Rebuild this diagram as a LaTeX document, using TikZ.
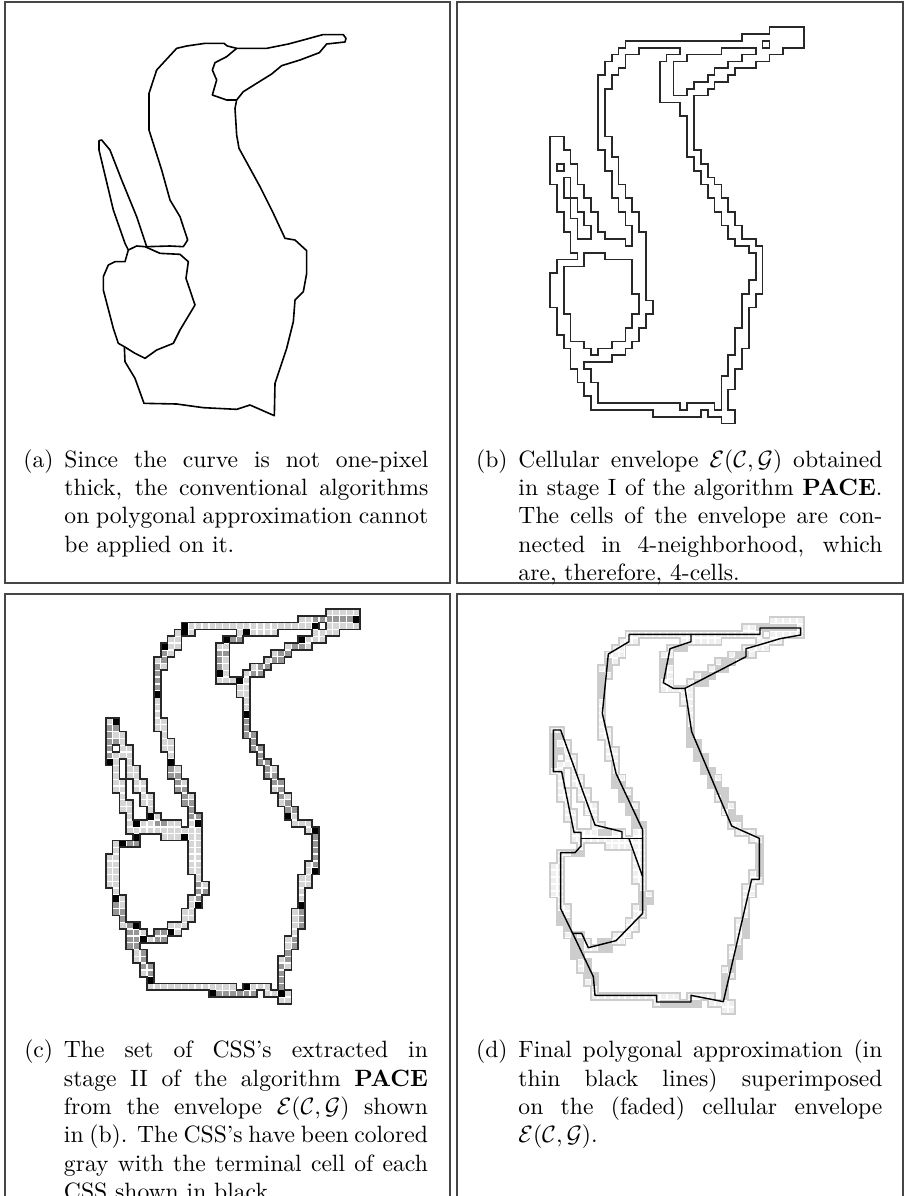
\documentclass[tikz,border=0pt]{standalone}
\usepackage{amsmath}
\definecolor{envDark}{RGB}{40,40,40}
\definecolor{frameGray}{RGB}{70,70,70}
\definecolor{cellLight}{RGB}{214,214,214}
\definecolor{cellMid}{RGB}{150,150,150}
\definecolor{fadeLine}{RGB}{205,205,205}
\definecolor{fadeCell}{RGB}{240,240,240}
\definecolor{fadeMid}{RGB}{205,205,205}
\tikzset{
  panelFrame/.style={draw=frameGray, line width=0.5pt},
  envLine/.style={draw=envDark, line width=0.72pt, line join=miter},
  fadedLine/.style={draw=fadeLine, line width=0.8pt},
  curveLine/.style={draw=black, line width=0.68pt, line join=round},
  polyLine/.style={draw=black, line width=0.6pt, line join=round},
  captionText/.style={anchor=north west, inner sep=0pt, text width=154.2pt, align=justify}
}
% envelope outlines on the cell grid
\newcommand{\envelopePaths}{
  (32,0) -- (37,0) -- (37,3) -- (34,3) -- (34,4) -- (32,4) -- (32,5) -- (30,5) -- (30,6) -- (27,6) -- (27,7) -- (26,7) -- (26,8) -- (24,8) -- (24,9) -- (23,9) -- (23,10) -- (21,10) -- (21,18) -- (22,18) -- (22,20) -- (23,20) -- (23,22) -- (24,22) -- (24,23) -- (25,23) -- (25,25) -- (26,25) -- (26,27) -- (27,27) -- (27,29) -- (28,29) -- (28,31) -- (30,31) -- (30,32) -- (31,32) -- (31,39) -- (30,39) -- (30,41) -- (29,41) -- (29,47) -- (28,47) -- (28,50) -- (27,50) -- (27,53) -- (26,53) -- (26,56) -- (27,56) -- (27,58) -- (25,58) -- (25,57) -- (23,57) -- (23,56) -- (22,56) -- (22,57) -- (15,57) -- (15,56) -- (6,56) -- (6,54) -- (5,54) -- (5,52) -- (4,52) -- (4,50) -- (3,50) -- (3,47) -- (2,47) -- (2,45) -- (1,45) -- (1,41) -- (0,41) -- (0,36) -- (1,36) -- (1,34) -- (4,34) -- (4,33) -- (3,33) -- (3,30) -- (2,30) -- (2,27) -- (1,27) -- (1,23) -- (0,23) -- (0,16) -- (2,16) -- (2,18) -- (3,18) -- (3,20) -- (4,20) -- (4,23) -- (5,23) -- (5,25) -- (6,25) -- (6,27) -- (7,27) -- (7,30) -- (8,30) -- (8,31) -- (11,31) -- (11,32) -- (12,32) -- (12,29) -- (11,29) -- (11,27) -- (10,27) -- (10,25) -- (9,25) -- (9,21) -- (8,21) -- (8,18) -- (7,18) -- (7,7) -- (8,7) -- (8,5) -- (9,5) -- (9,4) -- (10,4) -- (10,3) -- (11,3) -- (11,2) -- (28,2) -- (28,1) -- (32,1) -- cycle
  (13,3) -- (19,3) -- (19,4) -- (17,4) -- (17,5) -- (16,5) -- (16,11) -- (19,11) -- (19,13) -- (20,13) -- (20,19) -- (21,19) -- (21,21) -- (22,21) -- (22,23) -- (23,23) -- (23,25) -- (24,25) -- (24,27) -- (25,27) -- (25,29) -- (26,29) -- (26,31) -- (27,31) -- (27,32) -- (29,32) -- (29,33) -- (30,33) -- (30,37) -- (29,37) -- (29,39) -- (28,39) -- (28,44) -- (27,44) -- (27,48) -- (26,48) -- (26,51) -- (25,51) -- (25,56) -- (24,56) -- (24,55) -- (20,55) -- (20,56) -- (19,56) -- (19,55) -- (7,55) -- (7,52) -- (6,52) -- (6,50) -- (5,50) -- (5,49) -- (9,49) -- (9,48) -- (11,48) -- (11,47) -- (12,47) -- (12,46) -- (13,46) -- (13,44) -- (14,44) -- (14,42) -- (15,42) -- (15,40) -- (14,40) -- (14,30) -- (13,30) -- (13,27) -- (12,27) -- (12,25) -- (11,25) -- (11,23) -- (10,23) -- (10,19) -- (9,19) -- (9,16) -- (8,16) -- (8,9) -- (9,9) -- (9,7) -- (10,7) -- (10,6) -- (11,6) -- (11,4) -- (13,4) -- cycle
  (5,33) -- (8,33) -- (8,34) -- (12,34) -- (12,39) -- (13,39) -- (13,42) -- (12,42) -- (12,44) -- (11,44) -- (11,46) -- (9,46) -- (9,47) -- (7,47) -- (7,48) -- (6,48) -- (6,47) -- (5,47) -- (5,46) -- (3,46) -- (3,42) -- (2,42) -- (2,35) -- (5,35) -- cycle
  (18,5) -- (20,5) -- (20,4) -- (25,4) -- (25,3) -- (30,3) -- (30,4) -- (28,4) -- (28,5) -- (26,5) -- (26,6) -- (24,6) -- (24,7) -- (23,7) -- (23,8) -- (21,8) -- (21,9) -- (20,9) -- (20,10) -- (18,10) -- cycle
  (2,22) -- (3,22) -- (3,25) -- (4,25) -- (4,27) -- (5,27) -- (5,29) -- (6,29) -- (6,31) -- (4,31) -- (4,28) -- (3,28) -- (3,25) -- (2,25) -- cycle
  (31,2) rectangle (32,3)
  (1,20) rectangle (2,21)
}
% cells of the envelope, row/first/last
\newcommand{\cellRuns}{0/32/36,1/28/36,2/11/30,2/32/36,3/10/12,3/19/24,3/30/33,4/9/10,4/17/19,4/28/31,5/8/10,5/16/17,5/26/29,6/8/9,6/16/17,6/24/26,7/7/8,7/16/17,7/23/25,8/7/8,8/16/17,8/21/23,9/7/7,9/16/17,9/20/22,10/7/7,10/16/20,11/7/7,11/19/20,12/7/7,12/19/20,13/7/7,13/20/20,14/7/7,14/20/20,15/7/7,15/20/20,16/0/1,16/7/8,16/20/20,17/0/1,17/7/8,17/20/20,18/0/2,18/8/8,18/20/21,19/0/2,19/8/9,19/21/21,20/0/0,20/2/3,20/8/9,20/21/22,21/0/3,21/9/9,21/22/22,22/0/1,22/3/3,22/9/9,22/22/23,23/1/1,23/3/4,23/9/10,23/23/24,24/1/1,24/3/4,24/9/10,24/23/24,25/1/2,25/4/5,25/10/11,25/24/25,26/1/2,26/4/5,26/10/11,26/24/25,27/2/2,27/5/6,27/11/12,27/25/26,28/2/3,28/5/6,28/11/12,28/25/26,29/2/3,29/6/6,29/12/12,29/26/27,30/3/3,30/6/7,30/12/13,30/26/27,31/3/10,31/12/13,31/27/29,32/3/13,32/29/30,33/4/4,33/8/13,33/30/30,34/1/4,34/12/13,34/30/30,35/1/1,35/12/13,35/30/30,36/0/1,36/12/13,36/30/30,37/0/1,37/12/13,37/29/30,38/0/1,38/12/13,38/29/30,39/0/1,39/13/13,39/28/29,40/0/1,40/13/14,40/28/29,41/1/1,41/13/14,41/28/28,42/1/2,42/12/13,42/28/28,43/1/2,43/12/13,43/28/28,44/1/2,44/11/12,44/27/28,45/2/2,45/11/12,45/27/28,46/2/4,46/9/11,46/27/28,47/3/5,47/7/10,47/27/27,48/3/8,48/26/27,49/3/4,49/26/27,50/4/5,50/26/26,51/4/5,51/25/26,52/5/6,52/25/26,53/5/6,53/25/25,54/6/6,54/25/25,55/6/18,55/20/23,55/25/25,56/15/21,56/23/26,57/25/26}
% darker cells
\newcommand{\midRuns}{1/30/35,4/18/19,5/27/28,6/8/8,6/16/17,6/25/26,7/8/8,7/16/16,7/24/25,8/7/7,8/16/16,8/22/23,9/7/7,9/21/22,10/7/7,11/7/7,16/20/20,17/0/1,17/20/20,18/0/0,18/20/21,19/0/1,19/21/21,20/0/0,20/21/22,21/0/0,21/22/22,22/22/23,23/9/9,23/23/23,24/9/10,24/23/24,25/10/10,25/24/25,26/10/11,26/25/25,27/11/11,27/25/25,28/11/12,28/26/26,29/12/12,29/26/27,30/12/13,31/7/8,33/30/30,34/3/4,34/30/30,35/30/30,36/30/30,37/30/30,40/13/13,41/13/14,42/13/13,43/1/1,44/1/2,44/28/28,45/2/2,45/28/28,46/3/3,46/28/28,47/3/4,47/7/8,48/3/4,48/7/8,48/27/27,49/3/4,49/27/27,50/5/5,50/26/26,51/5/5,51/26/26,52/5/6,52/25/25,53/6/6,53/25/25,54/25/25,55/25/25,56/16/21}
% terminal cells, col/row
\newcommand{\blackCells}{11/2,11/3,8/5,7/12,1/16,0/22,9/22,16/9,17/4,20/3,19/10,20/15,28/4,30/2,36/1,26/30,30/32,30/38,28/43,25/56,20/55,15/56,6/54,5/48,9/47,4/46,1/42,2/34,4/33,11/33,13/43,13/31,6/30,4/31}

\begin{document}
\begin{tikzpicture}[x=0.4237pt, y=-0.4237pt]
  \useasboundingbox (0,0) rectangle (905,1196);

  % Frames
  \draw[panelFrame] (5,2) rectangle (450,583);
  \draw[panelFrame] (457,2) rectangle (903,583);
  \draw[panelFrame] (5,1196) -- (5,594) -- (450,594) -- (450,1196);
  \draw[panelFrame] (457,1196) -- (457,594) -- (903,594) -- (903,1196);

  % Panel a: raw curve
  \begin{scope}[shift={(80,20)}, x=0.14123pt, y=-0.14123pt]
    \draw[curveLine] (290,85) -- (320,78) -- (375,70) -- (432,70) -- (442,78) -- (470,85) -- (560,85) -- (625,72) -- (670,60) -- (728,44) -- (790,44) -- (798,55) -- (795,66) -- (740,72) -- (718,98) -- (660,120) -- (605,137) -- (575,162) -- (530,190) -- (490,215) -- (470,240) -- (465,265) -- (470,345) -- (477,385) -- (540,500) -- (580,580) -- (615,655) -- (645,660) -- (680,692) -- (680,760) -- (670,815) -- (645,840) -- (640,905) -- (620,985) -- (585,1090) -- (583,1187) -- (510,1155) -- (470,1168) -- (370,1163) -- (290,1152) -- (192,1150) -- (165,1075) -- (135,1025) -- (133,980) -- (115,970) -- (100,925) -- (70,810) -- (70,770) -- (85,735) -- (105,725) -- (135,725) -- (145,690) -- (135,670) -- (100,570) -- (57,390) -- (57,362) -- (65,360) -- (90,390) -- (125,480) -- (170,590) -- (200,680) -- (270,678) -- (310,680) -- (323,660) -- (300,590) -- (270,540) -- (245,450) -- (207,330) -- (207,220) -- (230,150) -- (290,85);
    \draw[curveLine] (145,690) -- (170,678) -- (195,680) -- (240,700) -- (300,703) -- (325,725) -- (318,775) -- (345,855) -- (300,930) -- (280,970) -- (230,990) -- (195,1015) -- (165,1000) -- (133,980);
    \draw[curveLine] (470,85) -- (440,110) -- (405,128) -- (397,150) -- (410,180) -- (397,225) -- (440,240) -- (470,240);
  \end{scope}
  \node[captionText] (capA) at (64,449) {\llap{(a)\hspace{4.6pt}}Since the curve is not one-pixel\linebreak thick, the conventional algorithms\linebreak on polygonal approximation cannot\linebreak be applied on it.};

  % Panel b: cellular envelope
  \begin{scope}[shift={(550,27.3)}, x=2.906pt, y=-2.895pt]
    \draw[envLine] \envelopePaths;
  \end{scope}
  \node[captionText] (capB) at (518,449) {\llap{(b)\hspace{4.6pt}}Cellular envelope $\mathcal{E}(\mathcal{C},\mathcal{G})$ obtained\linebreak in stage I of the algorithm \textbf{PACE}.\linebreak The cells of the envelope are con-\linebreak nected in 4-neighborhood, which\linebreak are, therefore, 4-cells.};

  % Panel c: cells colored by CSS
  \begin{scope}[shift={(105.7,609)}, x=2.915pt, y=-2.885pt]
    \foreach \r/\a/\b in \cellRuns {
      \foreach \c in {\a,...,\b} {
        \fill[cellLight] (\c+.1,\r+.1) rectangle (\c+.9,\r+.9);
      }
    }
    \foreach \r/\a/\b in \midRuns {
      \foreach \c in {\a,...,\b} {
        \fill[cellMid] (\c+.1,\r+.1) rectangle (\c+.9,\r+.9);
      }
    }
    \foreach \c/\r in \blackCells {
      \fill[black] (\c,\r) rectangle (\c+1,\r+1);
    }
    \draw[envLine] \envelopePaths;
  \end{scope}
  \node[captionText] (capC) at (63.5,1039.6) {\llap{(c)\hspace{4.6pt}}The set of CSS's extracted in\linebreak stage II of the algorithm \textbf{PACE}\linebreak from the envelope $\mathcal{E}(\mathcal{C},\mathcal{G})$ shown\linebreak in (b). The CSS's have been colored\linebreak gray with the terminal cell of each\linebreak CSS shown in black.};

  % Panel d: polygon over faded envelope
  \begin{scope}[shift={(550,617.3)}, x=2.906pt, y=-2.895pt]
    \foreach \r/\a/\b in \cellRuns {
      \foreach \c in {\a,...,\b} {
        \fill[fadeCell] (\c+.14,\r+.14) rectangle (\c+.86,\r+.86);
      }
    }
    \foreach \r/\a/\b in \midRuns {
      \foreach \c in {\a,...,\b} {
        \fill[fadeMid] (\c,\r) rectangle (\c+1,\r+1);
      }
    }
    \draw[fadedLine] \envelopePaths;
  \end{scope}
  \begin{scope}[shift={(530,600)}, x=0.14123pt, y=-0.14123pt]
    \draw[polyLine] (297,103) -- (690,103) -- (690,84) -- (812,84) -- (812,105) -- (750,116) -- (690,134) -- (648,146) -- (648,170) -- (465,265) -- (485,395) -- (605,678) -- (688,715) -- (688,838) -- (665,838) -- (580,1205) -- (483,1186) -- (483,1206) -- (380,1206) -- (380,1186) -- (195,1186) -- (190,1130) -- (128,1000) -- (92,926) -- (92,758) -- (135,758) -- (153,738) -- (153,697) -- (132,697) -- (95,515) -- (70,515) -- (70,390) -- (92,390) -- (195,675) -- (276,695) -- (276,716);
    \draw[polyLine] (153,716) -- (338,716);
    \draw[polyLine] (338,940) -- (338,690) -- (258,520) -- (217,340) -- (235,162) -- (297,125) -- (297,103);
    \draw[polyLine] (338,940) -- (258,1022) -- (175,1043) -- (155,1000) -- (128,1000);
    \draw[polyLine] (297,716) -- (338,830);
    \draw[polyLine] (483,103) -- (483,125) -- (420,146) -- (400,248) -- (430,265) -- (465,265);
  \end{scope}
  \node[captionText] (capD) at (518,1039.6) {\llap{(d)\hspace{4.6pt}}Final polygonal approximation (in\linebreak thin black lines) superimposed\linebreak on the (faded) cellular envelope\linebreak $\mathcal{E}(\mathcal{C},\mathcal{G})$.};
\end{tikzpicture}
\end{document}
